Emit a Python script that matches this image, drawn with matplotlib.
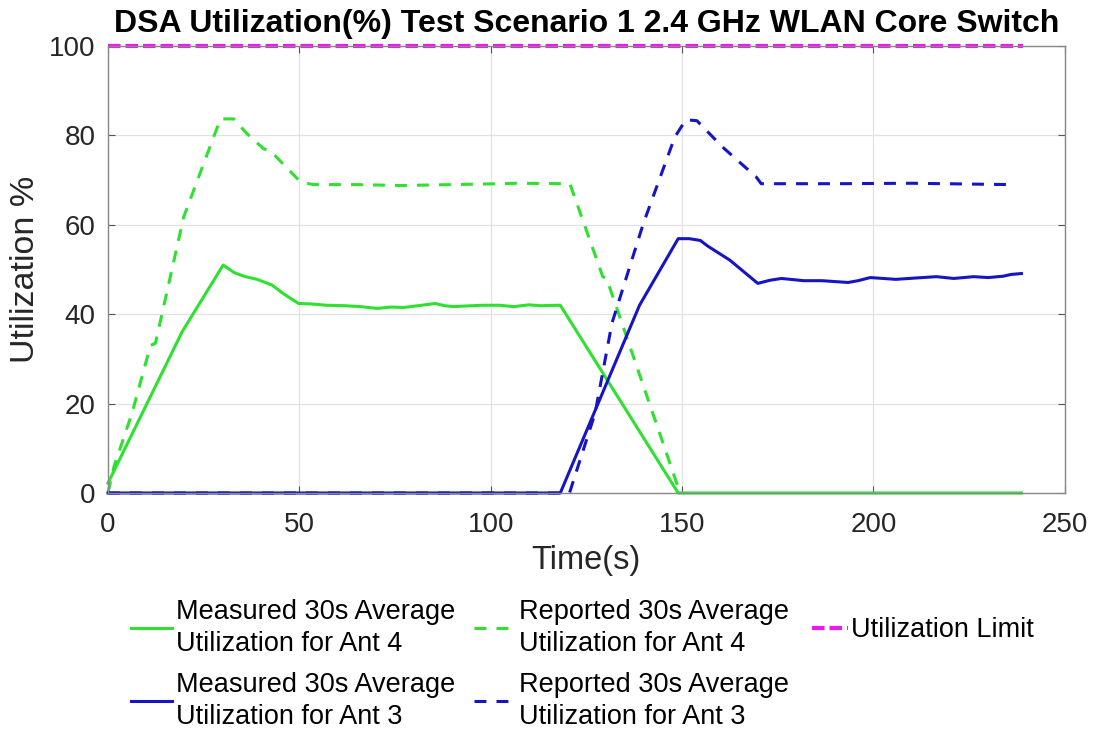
import matplotlib
matplotlib.use("Agg")
import matplotlib.pyplot as plt

plt.rcParams['font.family'] = ['Liberation Sans', 'DejaVu Sans']

# Measured 30s average, Ant 4 (green solid)
t_meas4 = [0, 19.4, 30.1, 33, 35.9, 39, 42.9, 46, 49.8, 53, 57.2, 62, 66, 70.3, 74, 77.2, 81, 85.5,
           88, 90.3, 95, 98, 102.4, 106, 110, 113, 117.7, 118.2, 149, 160, 180, 200, 220, 238.7]
u_meas4 = [2.2, 36.1, 51.0, 49.3, 48.4, 47.8, 46.5, 44.5, 42.4, 42.3, 42.0, 41.9, 41.7, 41.3, 41.6, 41.5, 41.9, 42.4,
           41.9, 41.7, 41.9, 42.0, 42.0, 41.7, 42.1, 41.9, 42.0, 42.0, 0, 0, 0, 0, 0, 0]

# Reported 30s average, Ant 4 (green dashed)
t_rep4 = [0, 1.6, 6.3, 11.1, 12.4, 19.8, 26.8, 29.4, 32.9, 36.3, 40.7, 42.4, 50.3, 53.7, 65, 76.3, 90,
          102.4, 106.8, 120.7, 129.3, 130.3, 149.5]
u_rep4 = [0, 6, 17.9, 33.0, 33.5, 61.8, 77.8, 83.7, 83.7, 80.4, 77.0, 76.6, 69.6, 69.0, 69.0, 68.8, 69.0,
          69.2, 69.3, 69.2, 48.4, 48.0, 0]

# Measured 30s average, Ant 3 (blue solid)
t_meas3 = [0, 118.2, 138.9, 149, 151.9, 154.8, 156.8, 162.5, 169.8, 173, 176, 181.8, 186.6, 190, 193.4,
           196, 199.2, 205.9, 211, 216.5, 221, 226.2, 230, 233.9, 236, 238.7]
u_meas3 = [0, 0, 42.0, 56.9, 56.9, 56.5, 55.2, 52.1, 46.9, 47.6, 48.0, 47.5, 47.5, 47.3, 47.1,
           47.5, 48.2, 47.8, 48.1, 48.4, 48.0, 48.4, 48.2, 48.5, 48.9, 49.1]

# Reported 30s average, Ant 3 (blue dashed)
t_rep3 = [0, 120.6, 127.3, 131.7, 139.9, 148.1, 151, 153.9, 160.6, 169.4, 170.7, 190, 210, 235.8]
u_rep3 = [0, 0, 17.9, 38.0, 60.3, 79.6, 83.5, 83.3, 77.4, 70.7, 69.2, 69.2, 69.3, 69.0]

# Utilization limit
t_limit = [0, 239]
u_limit = [100, 100]

title = "DSA Utilization(%) Test Scenario 1 2.4 GHz WLAN Core Switch"
xticks = [0, 50, 100, 150, 200, 250]
yticks = [0, 20, 40, 60, 80, 100]
labels = ["Measured 30s Average\nUtilization for Ant 4",
          "Measured 30s Average\nUtilization for Ant 3",
          "Reported 30s Average\nUtilization for Ant 4",
          "Reported 30s Average\nUtilization for Ant 3"]
limit_label = "Utilization Limit"

green = '#2fe12f'
blue = '#1515c4'
magenta = '#ee18ee'

fig = plt.figure(figsize=(10.94, 7.31), dpi=100)
ax = fig.add_axes([0.0987, 0.3256, 0.8745, 0.6114])

dash = (0, (3.9, 3.3))
l1, = ax.plot(t_meas4, u_meas4, color=green, lw=2.2, solid_joinstyle='round')
l2, = ax.plot(t_rep4, u_rep4, color=green, lw=2.2, ls=dash)
l3, = ax.plot(t_meas3, u_meas3, color=blue, lw=2.2, solid_joinstyle='round')
l4, = ax.plot(t_rep3, u_rep3, color=blue, lw=2.2, ls=dash)
l5, = ax.plot(t_limit, u_limit, color=magenta, lw=3, ls=(0, (3, 1.2)))

ax.set_xlim(0, 250)
ax.set_ylim(0, 100)
ax.set_xticks(xticks)
ax.set_yticks(yticks)
ax.grid(True, color='#e2e2e2', lw=0.9)
ax.set_axisbelow(True)
ax.tick_params(direction='in', length=5, width=0.8, colors='#555555', labelcolor='#262626',
               labelsize=20, top=True, right=True)
ax.tick_params(axis='x', pad=14)
ax.tick_params(axis='y', pad=9)
for s in ax.spines.values():
    s.set_color('#888888')
    s.set_linewidth(1.0)
for l in [l1, l2, l3, l4, l5]:
    l.set_clip_on(False)

ax.set_title(title, fontsize=23, fontweight='bold', pad=10)
ax.set_xlabel("Time(s)", fontsize=23.5, color='#262626', labelpad=5)
ax.set_ylabel("Utilization %", fontsize=24.5, color='#262626', labelpad=6)

leg1 = fig.legend([l1, l3, l2, l4], labels,
                  ncol=2, loc='upper left', bbox_to_anchor=(0.1202, 0.181), frameon=False,
                  fontsize=19.5, handlelength=1.5, handletextpad=0.15, columnspacing=0.7,
                  labelspacing=0.55, borderaxespad=0, borderpad=0,
                  bbox_transform=fig.transFigure)
for txt in leg1.get_texts():
    txt.set_linespacing(1.3)

leg2 = fig.legend([l5], [limit_label], loc='center left',
                  bbox_to_anchor=(0.742, 0.138), frameon=False, fontsize=19.5,
                  handlelength=1.35, handletextpad=0.1, borderaxespad=0, borderpad=0,
                  bbox_transform=fig.transFigure)

fig.savefig("out.png", dpi=100, facecolor='white')
